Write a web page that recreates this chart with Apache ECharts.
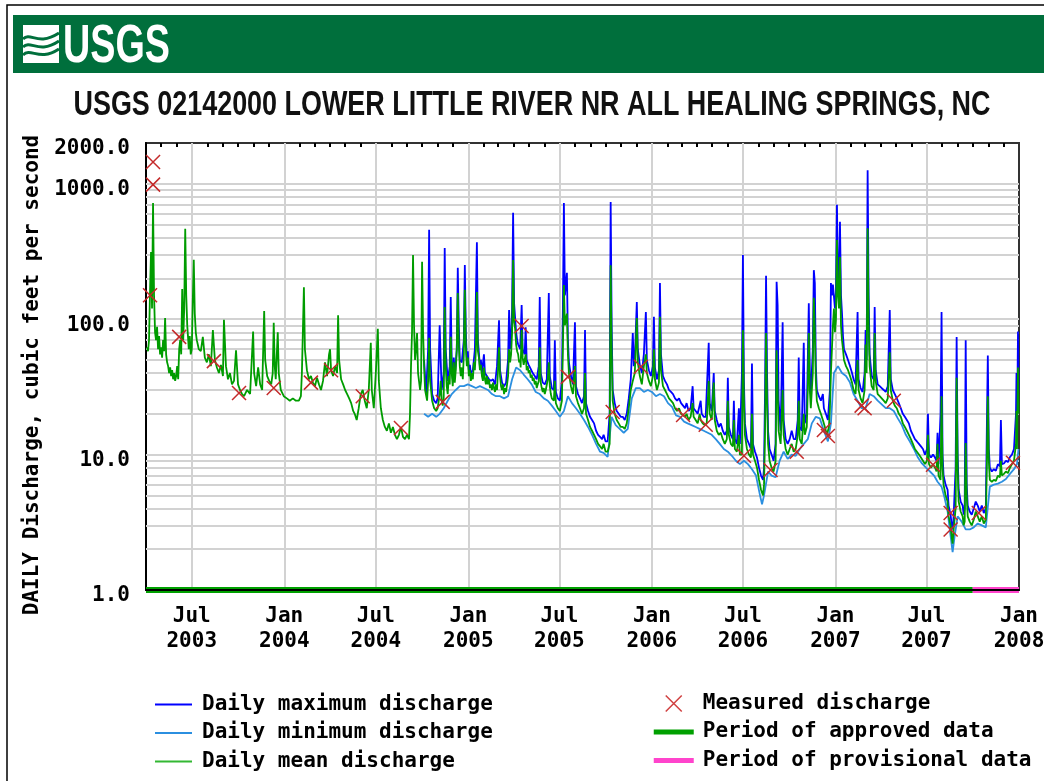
<!DOCTYPE html>
<html>
<head>
<meta charset="utf-8">
<script src="https://cdn.jsdelivr.net/npm/echarts@6/dist/echarts.min.js"></script>
<style>
  html, body { margin: 0; padding: 0; background: #fff; }
  #chart { width: 1044px; height: 781px; }
</style>
</head>
<body>
<div id="chart"></div>
<script>
// Horizontal axis counts days from 2003-04-01 (day 0) to 2008-01-01 (day 1736)
const START = Date.UTC(2003, 3, 1);
const END = Date.UTC(2008, 0, 1);
const DAY_MS = 86400000;
const LAST_DAY = Math.round((END - START) / DAY_MS);

// Daily mean discharge, ft3/s  [day, value]
const meanFlow = [
  [2,62],[4,58],[6,70],[8,160],[10,313],[12,120],[14,721],[16,150],[18,80],[20,70],[22,88],[24,60],[26,75],[28,55],[30,62],[32,52],[34,70],[36,58],[38,102],[40,55],[42,48],[44,45],[46,40],[48,44],[50,38],[52,42],[54,36],[56,40],[58,35],[60,38],[62,45],[64,36],[66,60],[68,70],[70,55],[72,167],[74,70],[76,120],[78,465],[80,150],[82,90],[84,70],[85,60],[87,75],[89,55],[91,60],[93,134],[95,275],[97,110],[99,80],[101,70],[103,65],[105,60],
  [109,58],[113,74],[117,52],[121,48],[125,55],[129,45],[133,83],[137,50],[141,44],[145,40],[149,46],[153,38],[155,99],[159,45],[163,36],[167,40],[171,33],[175,35],[179,59],[183,33],[187,30],[191,28],
  [195,27],[201,30],[207,28],[213,81],[215,40],[219,32],[223,44],[227,33],[231,30],[235,115],[237,50],[241,38],[245,35],[249,33],[252,40],[254,94],[256,45],[258,36],[262,80],[264,40],[268,30],[274,27],[280,26],[286,25],[292,26],[298,25],[304,25],[308,27],
  [310,40],[314,172],[316,60],[320,42],[324,36],[328,38],[332,34],[336,32],[340,37],[344,33],[348,30],[352,35],[356,48],[360,38],[364,55],[366,60],[368,42],[372,38],[376,45],[380,40],[382,107],[384,50],[388,36],[392,33],[396,30],
  [400,28],[404,26],[408,24],[412,21],[415,20],[419,18],[423,22],[427,28],[431,30],[435,25],[439,22],[443,30],[447,67],[449,30],[453,22],[457,40],[461,85],[463,35],[467,22],[471,18],[475,16],[479,15],[483,17],[487,14.5],[491,16],[495,14],[499,13],[503,14],[507,16],[511,13.5],[515,13],[519,14],[523,13],
  [525,20],[527,45],[529,80],[531,298],[533,90],[535,50],[537,60],[539,79],[541,40],[545,30],[547,35],[549,265],[551,80],[553,45],[555,30],[559,25],[561,35],[563,73],[565,35],[569,25],[573,22],[577,21],[580,22],[584,28],[586,35],[588,25],
  [590,23],[592,26],[594,123],[596,45],[598,32],[600,28],[602,38],[604,33],[606,74],[608,40],[610,32],[612,48],[614,34],[616,42],[618,60],[620,156],[622,65],[624,45],[626,38],[628,44],[630,36],[632,55],[634,165],[636,62],[638,45],[640,52],[642,38],[644,42],[646,35],[648,40],
  [650,36],[652,48],[654,42],[656,60],[658,159],[660,58],[662,52],[664,42],[666,46],[668,38],[670,35],[672,44],[674,36],[676,33],[678,38],[680,33],[682,36],[684,31],[686,33],[688,30],[690,34],[692,31],[694,29],[696,33],[698,30],[700,42],[702,62],[704,38],[706,32],[708,30],[710,33],[712,28],[714,31],[716,29],[718,33],[720,38],
  [722,60],[724,48],[726,55],[728,80],[730,274],[732,95],[734,85],[736,65],[738,58],[740,55],[742,48],[744,50],[745,44],[747,83],[749,52],[751,46],[753,45],[755,55],[757,42],[759,45],[761,40],[763,42],[765,37],
  [767,39],[769,35],[771,37],[773,33],[775,35],[777,31],[779,33],[781,35],[783,62],[785,34],[787,31],[789,29],[791,31],[793,28],[795,30],[797,30],[799,36],[801,48],[803,32],[805,28],[807,26],[811,25],[813,35],[815,24],[819,22],[823,21],[827,25],[829,60],[831,179],[833,90],[837,110],[839,55],[841,40],[845,32],
  [849,28],[853,45],[855,27],[859,24],[863,22],[867,20],[871,22],[873,40],[875,20],[879,18],[883,16],[887,15],[891,14],[895,13],[899,12],[903,11.5],[907,11],[910,12],[914,10.5],[918,10.5],[922,12],
  [924,250],[926,60],[928,25],[932,20],[936,18],[940,17],[944,16],[948,16],[952,15.5],[956,17],[960,22],[964,30],[968,35],[972,40],[976,102],[978,48],[982,38],[986,33],[990,45],[994,55],[996,40],[1000,35],[1004,32],[1008,38],[1010,60],[1012,36],[1016,30],[1020,34],[1022,104],[1024,42],[1028,32],
  [1032,30],[1036,28],[1040,26],[1044,25],[1048,24],[1052,22],[1056,21],[1060,22],[1064,20],[1068,19.5],[1072,19],[1075,20],[1079,18],[1083,19],[1087,24],[1089,19],[1093,18],[1097,17],[1101,20],[1103,18],[1107,17],[1111,16.5],[1115,17],[1119,35],[1121,20],[1125,18],[1129,34],[1131,18],[1135,15],[1139,14],[1143,14.5],[1147,13],[1151,12],[1155,13],[1157,25],[1159,14],[1163,12],[1167,11.5],[1169,18],[1171,11],[1175,10.5],[1179,14],[1181,10],[1185,10],
  [1187,83],[1189,25],[1191,14],[1195,11],[1199,10],[1203,9.5],[1205,20],[1207,10],[1211,9],[1215,8],[1219,6.5],[1223,5.5],[1227,5],[1229,6],[1231,15],[1233,79],[1235,25],[1237,12],[1240,9],[1244,8],[1248,7.5],[1252,9],[1254,59],[1256,30],[1258,15],[1262,12],[1266,30],[1268,14],[1272,11],[1276,10],[1280,11],[1284,12],[1288,10.5],[1292,11],[1296,14],[1298,25],[1300,13],[1304,12],
  [1308,20],[1310,14],[1314,16],[1316,30],[1318,79],[1320,30],[1322,22],[1326,40],[1328,144],[1330,83],[1332,35],[1334,25],[1338,22],[1342,20],[1346,18],[1350,16],[1354,14],[1358,16],[1360,22],[1362,40],
  [1364,60],[1366,90],[1368,120],[1370,80],[1372,100],[1374,385],[1376,150],[1378,120],[1380,288],[1382,90],[1384,70],[1386,60],[1388,50],[1392,45],[1396,42],[1400,38],
  [1404,34],[1407,30],[1411,28],[1415,50],[1417,30],[1421,26],[1425,24],[1429,30],[1431,65],[1433,40],[1435,470],[1437,90],[1439,45],[1443,32],[1447,30],[1449,79],[1451,35],[1455,28],[1459,27],[1463,26],[1467,25],[1471,24],[1475,26],[1479,57],[1481,30],[1485,25],
  [1489,23],[1493,22],[1497,20],[1501,19],[1505,17],[1509,16],[1513,15],[1517,14],[1521,13],[1525,12],[1529,11],[1533,10.5],[1537,10],[1541,9.5],[1545,9],[1549,8.5],[1553,9],[1555,14],[1557,8.5],[1561,8],[1565,8.5],[1569,8],[1572,7.5],[1574,12],[1576,7],[1580,6.5],
  [1582,27],[1584,8],[1586,6],[1590,5],[1594,4.5],[1596,3.5],[1600,3],[1602,2.5],[1604,2.2],[1606,2.8],[1610,4],[1612,37],[1614,8],[1616,4.5],[1620,3.8],[1624,3.5],[1626,3],[1628,3.2],[1630,12.2],[1632,5],[1634,3.5],[1638,3.2],[1642,3],[1646,3.3],[1650,3.8],[1654,3.5],[1658,3.2],[1662,3.5],[1666,3.1],[1670,3.3],[1672,8],[1674,27],[1676,9],[1678,6.5],[1682,6.3],[1686,6.5],[1690,6.4],[1694,7],[1698,6.8],[1700,9],[1702,7],[1706,7.2],[1710,7.5],[1714,7.3],[1718,8],[1722,8.5],[1726,9],[1730,12],[1731,21],[1732,11],[1734,44],[1735,20]
];

// Daily maximum discharge, ft3/s  [day, value] (record begins Oct 2004)
const maxFlow = [
  [553,50],[557,28],[561,60],[563,458],[565,60],[569,28],[573,25],[577,24],[580,26],[584,90],[586,50],[588,30],
  [592,40],[594,336],[596,60],[600,35],[604,45],[606,146],[608,45],[610,36],[612,52],[614,38],[618,60],[620,240],[622,90],[624,50],[628,48],[632,70],[634,251],[636,80],[638,50],[640,58],[642,42],[644,46],[646,40],
  [650,42],[654,60],[658,370],[660,70],[662,70],[664,45],[666,50],[668,40],[672,55],[674,40],[678,38],[682,36],[686,35],[690,36],[694,33],[698,45],[702,98],[704,42],[708,34],[712,32],[716,34],[720,50],
  [722,117],[724,60],[726,70],[728,120],[730,610],[732,131],[734,131],[736,80],[738,70],[740,65],[744,60],[747,127],[749,60],[753,55],[755,87],[757,50],[761,46],[765,43],
  [769,40],[773,38],[777,36],[781,45],[783,146],[785,40],[789,34],[793,33],[797,36],[801,156],[803,38],[807,31],[811,30],[813,70],[815,29],[819,26],[823,25],[827,35],[829,120],[831,720],[833,150],[837,220],[839,70],[841,48],[845,38],
  [849,33],[853,95],[855,32],[859,28],[863,26],[867,24],[871,27],[873,83],[875,24],[879,21],[883,19],[887,18],[891,17],[895,15],[899,14],[903,13.5],[907,13],[910,14],[914,12.5],[918,12.5],[922,20],
  [924,733],[926,90],[928,30],[932,24],[936,21],[940,20],[944,19],[948,19],[952,18],[956,20],[960,26],[964,36],[968,79],[970,45],[972,50],[976,134],[978,60],[982,46],[986,40],[990,55],[994,113],[996,50],[1000,42],[1004,38],[1008,45],[1010,104],[1012,44],[1016,36],[1020,42],[1022,185],[1024,55],[1028,38],
  [1032,35],[1036,33],[1040,30],[1044,29],[1048,28],[1052,26],[1056,25],[1060,26],[1064,24],[1068,23],[1072,22],[1075,24],[1079,21],[1083,22],[1087,32],[1089,22],[1093,21],[1097,20],[1103,25],[1105,20],[1109,19],[1113,19],[1119,67],[1121,24],[1125,21],[1129,40],[1131,21],[1135,18],[1139,16],[1143,17],[1147,15],[1151,14],[1155,15],[1157,37],[1159,16],[1163,14],[1167,13],[1169,25],[1171,13],[1175,12],[1179,22],[1181,12],[1185,40],
  [1187,298],[1189,35],[1191,17],[1195,13],[1199,12],[1203,11],[1205,47],[1207,12],[1211,10.5],[1215,9.5],[1219,8],[1223,7],[1227,6.5],[1229,8],[1231,30],[1233,209],[1235,40],[1237,15],[1240,11],[1244,10],[1248,9],[1252,12],[1254,189],[1256,127],[1258,25],[1262,15],[1266,95],[1268,18],[1272,13],[1276,12],[1280,13],[1284,15],[1288,13],[1292,13],[1296,18],[1298,52],[1300,16],[1304,15],
  [1308,67],[1310,17],[1314,20],[1316,50],[1318,131],[1320,40],[1322,28],[1326,60],[1328,230],[1330,185],[1332,45],[1334,30],[1338,27],[1342,25],[1346,28],[1348,22],[1352,20],[1356,18],[1360,30],[1362,185],
  [1364,150],[1366,180],[1368,185],[1370,120],[1372,160],[1374,700],[1376,200],[1378,180],[1380,524],[1382,150],[1384,111],[1386,75],[1388,60],[1392,55],[1396,50],[1400,45],
  [1404,40],[1407,36],[1411,33],[1415,113],[1417,36],[1421,31],[1425,29],[1429,40],[1431,83],[1433,50],[1435,1260],[1437,150],[1439,55],[1443,38],[1447,36],[1449,123],[1451,42],[1455,33],[1459,32],[1463,31],[1467,30],[1471,29],[1475,32],[1479,117],[1481,36],[1485,30],
  [1489,28],[1493,26],[1497,24],[1501,22],[1505,20],[1509,19],[1513,18],[1517,17],[1521,15],[1525,14],[1529,13],[1533,12.5],[1537,12],[1541,11.5],[1545,11],[1549,10],[1553,11],[1555,20],[1557,10],[1561,9.5],[1565,10],[1569,9.5],[1572,9],[1574,14.5],[1576,8.5],[1580,20],
  [1582,113],[1584,10],[1586,7],[1590,6],[1594,5.5],[1596,4.2],[1600,3.6],[1602,3],[1604,2.8],[1606,3.5],[1610,8],[1612,74],[1614,10],[1616,5.5],[1620,4.5],[1624,4.2],[1626,3.6],[1628,4],[1630,70],[1632,6],[1634,4.2],[1638,3.8],[1642,3.6],[1646,4],[1650,4.5],[1654,4.2],[1658,3.8],[1662,4.2],[1666,3.7],[1670,4],[1672,15],[1674,54],[1676,11],[1678,8],[1682,7.5],[1686,7.8],[1690,7.6],[1694,8.5],[1698,8.2],[1700,18],[1702,8.5],[1706,8.6],[1710,9],[1714,8.8],[1718,9.6],[1722,10],[1726,11],[1730,20],[1731,40],[1732,14],[1734,81],[1735,30]
];

// Daily minimum discharge, ft3/s  [day, value] (record begins Oct 2004)
const minFlow = [
  [553,20],[561,19],[569,20],[577,19],[584,20],[592,22],[600,25],[608,28],[616,30],[624,32],[632,32],[640,33],[648,32],[656,31],[664,32],[672,31],[680,30],[688,28],[696,27],[704,27],[712,26],[720,27],
  [728,36],[736,44],[744,42],[751,39],[759,36],[767,33],[775,29],[783,28],[791,26],[799,25],[807,23],[815,21],[823,19],[831,21],[839,27],[847,24],[855,22],[863,20],[871,18],[879,16],[887,14],[895,12],[903,10.5],[910,10.3],[918,9.6],
  [926,19],[934,16.5],[942,15.5],[950,14.5],[958,15.5],[966,26],[974,31],[982,31],[990,29],[998,30],[1006,29],[1014,27],[1022,28],[1030,27],[1038,24],[1046,22.5],[1054,19.5],[1062,19],[1070,17.5],[1077,17],[1085,16.5],[1093,16],[1101,15.5],[1109,15],[1117,14.5],[1125,14],[1133,13],[1141,12],[1149,11],[1157,10.5],[1165,9.8],[1173,9],[1181,8.5],
  [1189,9],[1197,8.5],[1205,7.8],[1213,7],[1221,5],[1225,4.3],[1229,5],[1237,7.5],[1244,7],[1252,6.8],[1260,9],[1268,10.5],[1276,9.3],[1284,10],[1292,9.8],[1300,11],[1308,12],[1316,13],[1324,17],[1332,19],[1340,18.5],[1348,15],[1356,12.5],[1362,17],
  [1368,40],[1376,45],[1384,40],[1392,38],[1400,34],[1407,28],[1415,25],[1423,22],[1431,22],[1439,28],[1447,27],[1455,25],[1463,23.5],[1471,22],[1479,22],[1487,21],[1495,18.5],[1503,16.5],[1511,14],[1519,12.5],[1527,11],[1535,9.5],[1543,8.6],[1551,8],[1559,7.5],[1567,7],[1574,6.3],
  [1582,5.8],[1588,4.8],[1594,3.8],[1600,2.5],[1604,1.9],[1608,2.5],[1614,3.5],[1622,3.2],[1630,2.8],[1638,2.8],[1646,2.9],[1654,3.1],[1662,3],[1670,2.9],[1678,5.8],[1686,6],[1694,6.1],[1702,6.3],[1710,6.6],[1718,7.2],[1726,7.8],[1732,8.5],[1735,11]
];

// Field measurements of discharge, ft3/s  [day, value]
const measuredFlow = [
  [8,150],[14,1450],[14,985],[66,74],[135,49],[185,28.5],[254,31],[328,34],[368,42],[431,27],[507,15.7],[590,24.5],
  [747,89],[839,37.5],[928,20.6],[984,44.5],[1068,19.6],[1113,16.6],[1189,9.8],[1242,7.7],[1294,10.5],[1348,15.2],[1356,13.7],
  [1423,23],[1429,22],[1487,25],[1565,8.4],[1600,3.7],[1600,2.8],[1656,3.7],[1724,8.7]
];

// Data-approval periods  [first day, last day]
const approvedPeriod = [0, 1644];
const provisionalPeriod = [1644, 1736];

// Axis ticks and labels
const xTickDates = ['2003-07-01','2004-01-01','2004-07-01','2005-01-01','2005-07-01','2006-01-01','2006-07-01','2007-01-01','2007-07-01','2008-01-01'];
const xTickLabels = ['Jul\n2003','Jan\n2004','Jul\n2004','Jan\n2005','Jul\n2005','Jan\n2006','Jul\n2006','Jan\n2007','Jul\n2007','Jan\n2008'];
const yTickValues = [1, 10, 100, 1000, 2000];
const yTickLabels = ['1.0', '10.0', '100.0', '1000.0', '2000.0'];
const yGridValues = [2,3,4,5,6,7,8,9,10,20,30,40,50,60,70,80,90,100,200,300,400,500,600,700,800,900,1000];

const TITLE = 'USGS 02142000 LOWER LITTLE RIVER NR ALL HEALING SPRINGS, NC';
const Y_NAME = 'DAILY Discharge, cubic feet per second';
const MONO = '"DejaVu Sans Mono", "Liberation Mono", monospace';

const dayOf = t => Math.round((t - START) / DAY_MS);
const xTickDays = xTickDates.map(s => dayOf(Date.parse(s)));

// month starts for the small ticks along the top edge
const monthTickDays = [];
for (let y = 2003; y <= 2007; y++) {
  for (let m = 0; m < 12; m++) {
    const d = dayOf(Date.UTC(y, m, 1));
    if (d > 0 && d < LAST_DAY) monthTickDays.push(d);
  }
}

// background grid: horizontal lines at 1-9 x each decade, vertical lines at Jan/Jul
const gridSegments = [];
yGridValues.forEach(v => gridSegments.push({ coords: [[0, v], [LAST_DAY, v]] }));
xTickDays.filter(d => d < LAST_DAY).forEach(d => gridSegments.push({ coords: [[d, 1], [d, 2000]] }));

function textScale(text, font, width) {
  const ctx = document.createElement('canvas').getContext('2d');
  ctx.font = font;
  return width / ctx.measureText(text).width;
}
const TITLE_FONT = 'bold 35px "Liberation Sans", Arial, sans-serif';
const LOGO_FONT = 'bold 53px "Liberation Sans", Arial, sans-serif';
const titleScale = textScale(TITLE, TITLE_FONT, 917);
const logoScale = textScale('USGS', LOGO_FONT, 107);

const COLORS = {
  max: '#0000ff', min: '#2b8fe0', mean: '#009c00',
  measured: '#c42a2a', approved: '#00a000', provisional: '#ff44cc'
};

const lineIcon = 'path://M0,0M37,14M0,6L37,6L37,8L0,8Z';
const barIcon = 'path://M0,0M40,16M0,5.5L40,5.5L40,10.5L0,10.5Z';
const crossIcon = 'path://M0,0M40,16M12,0L28,16M28,0L12,16';

const legendText = {
  fontFamily: MONO, fontWeight: 'bold', fontSize: 21, color: '#000', lineHeight: 21
};

// logo wave stripes
const waveCurves = [
  { x1: 23, y1: 39, cpx1: 31, cpy1: 31, cpx2: 37, cpy2: 47, x2: 59, y2: 33 },
  { x1: 23, y1: 47, cpx1: 31, cpy1: 39, cpx2: 38, cpy2: 55, x2: 59, y2: 41 },
  { x1: 23, y1: 55, cpx1: 31, cpy1: 47, cpx2: 39, cpy2: 62, x2: 59, y2: 49 }
].map(shape => ({
  type: 'bezierCurve', z: 12, silent: true, shape,
  style: { stroke: '#006f3c', lineWidth: 3, fill: null }
}));

const chart = echarts.init(document.getElementById('chart'), null, { renderer: 'canvas' });

chart.setOption({
  animation: false,
  backgroundColor: '#ffffff',
  grid: {
    left: 146, right: 25, top: 143, bottom: 191,
    outerBoundsMode: 'none', containLabel: false,
    show: true, borderColor: '#333', borderWidth: 2, backgroundColor: '#fff'
  },
  xAxis: [
    {
      type: 'value', min: 0, max: LAST_DAY, z: 5,
      axisLine: { show: true, onZero: false, lineStyle: { color: '#000', width: 2 } },
      axisTick: { show: false, customValues: xTickDays },
      splitLine: { show: false },
      axisLabel: {
        customValues: xTickDays,
        formatter: v => {
          const i = xTickDays.indexOf(Math.round(v));
          return i >= 0 ? xTickLabels[i] : '';
        },
        fontFamily: MONO, fontWeight: 'bold', fontSize: 21, color: '#000',
        lineHeight: 25, margin: 14, align: 'center',
        showMinLabel: true, showMaxLabel: true
      }
    },
    {
      type: 'value', min: 0, max: LAST_DAY, position: 'top',
      axisLine: { show: false },
      axisLabel: { show: false },
      splitLine: { show: false },
      axisTick: { show: true, inside: true, length: 4, customValues: monthTickDays, lineStyle: { color: '#000', width: 2 } }
    }
  ],
  yAxis: {
    type: 'log', logBase: 10, min: 1, max: 2000,
    axisLine: { show: true, lineStyle: { color: '#000', width: 2 } },
    axisTick: { show: false },
    splitLine: { show: false },
    axisLabel: {
      formatter: v => {
        const i = yTickValues.findIndex(t => Math.abs(Math.log10(t) - Math.log10(v)) < 0.01);
        return i >= 0 ? yTickLabels[i] : '';
      },
      fontFamily: MONO, fontWeight: 'bold', fontSize: 21, color: '#000', margin: 16,
      verticalAlign: 'top', lineHeight: 12
    }
  },
  legend: [
    {
      orient: 'vertical', left: 155, top: 694, padding: 0, itemWidth: 37, itemHeight: 14, itemGap: 7.5,
      selectedMode: false,
      textStyle: Object.assign({ padding: [0, 0, 0, 5] }, legendText),
      data: [
        { name: 'Daily maximum discharge', icon: lineIcon, itemStyle: { color: COLORS.max, borderWidth: 0 } },
        { name: 'Daily minimum discharge', icon: lineIcon, itemStyle: { color: COLORS.min, borderWidth: 0 } },
        { name: 'Daily mean discharge', icon: lineIcon, itemStyle: { color: '#33b833', borderWidth: 0 } }
      ]
    },
    {
      orient: 'vertical', left: 653, top: 693, padding: 0, itemWidth: 40, itemHeight: 16, itemGap: 7.5,
      selectedMode: false,
      textStyle: Object.assign({ padding: [0, 0, 0, 4] }, legendText),
      data: [
        { name: 'Measured discharge', icon: crossIcon, itemStyle: { color: 'transparent', borderColor: '#d04040', borderWidth: 1.5 } },
        { name: 'Period of approved data', icon: barIcon, itemStyle: { color: COLORS.approved, borderWidth: 0 } },
        { name: 'Period of provisional data', icon: barIcon, itemStyle: { color: COLORS.provisional, borderWidth: 0 } }
      ]
    }
  ],
  graphic: [
    // page frame
    { type: 'polyline', z: 10, silent: true, shape: { points: [[7, 781], [7, 5], [1044, 5]] }, style: { stroke: '#000', lineWidth: 1.5, fill: null } },
    // agency banner
    { type: 'rect', z: 10, silent: true, shape: { x: 13, y: 15, width: 1040, height: 58 }, style: { fill: '#006f3c' } },
    { type: 'rect', z: 11, silent: true, shape: { x: 23, y: 25, width: 36, height: 38 }, style: { fill: '#ffffff' } },
    ...waveCurves,
    { type: 'text', z: 11, silent: true, x: 63, y: 47, scaleX: logoScale, style: { text: 'USGS', font: LOGO_FONT, fill: '#fff', align: 'left', verticalAlign: 'middle' } },
    // chart title
    { type: 'text', z: 10, silent: true, x: 532, y: 105, scaleX: titleScale, style: { text: TITLE, font: TITLE_FONT, fill: '#111', align: 'center', verticalAlign: 'middle' } },
    // vertical axis title
    { type: 'text', z: 10, silent: true, x: 33, y: 375, rotation: Math.PI / 2, style: { text: Y_NAME, font: 'bold 21px ' + MONO, fill: '#000', align: 'center', verticalAlign: 'middle' } }
  ],
  series: [
    {
      name: 'grid', type: 'lines', coordinateSystem: 'cartesian2d', z: 1, silent: true,
      lineStyle: { color: '#d2d2d2', width: 2, opacity: 1 },
      data: gridSegments
    },
    {
      name: 'Daily maximum discharge', type: 'line', z: 2, symbol: 'none', showSymbol: false,
      lineStyle: { color: COLORS.max, width: 1.8 }, itemStyle: { color: COLORS.max },
      data: maxFlow
    },
    {
      name: 'Daily minimum discharge', type: 'line', z: 2, symbol: 'none', showSymbol: false,
      lineStyle: { color: COLORS.min, width: 1.8 }, itemStyle: { color: COLORS.min },
      data: minFlow
    },
    {
      name: 'Daily mean discharge', type: 'line', z: 2, symbol: 'none', showSymbol: false,
      lineStyle: { color: COLORS.mean, width: 1.8 }, itemStyle: { color: COLORS.mean },
      data: meanFlow
    },
    {
      name: 'Period of approved data', type: 'line', z: 3, symbol: 'none', clip: false,
      lineStyle: { color: COLORS.approved, width: 6 }, itemStyle: { color: COLORS.approved },
      data: [[approvedPeriod[0], 1], [approvedPeriod[1], 1]]
    },
    {
      name: 'Period of provisional data', type: 'line', z: 3, symbol: 'none', clip: false,
      lineStyle: { color: COLORS.provisional, width: 6 }, itemStyle: { color: COLORS.provisional },
      data: [[provisionalPeriod[0], 1], [provisionalPeriod[1], 1]]
    },
    {
      name: 'Measured discharge', type: 'scatter', z: 4,
      symbol: 'path://M0,0L14,14M14,0L0,14', symbolSize: 14,
      itemStyle: { color: 'transparent', borderColor: COLORS.measured, borderWidth: 1.5, opacity: 1 },
      data: measuredFlow
    }
  ]
});
</script>
</body>
</html>
